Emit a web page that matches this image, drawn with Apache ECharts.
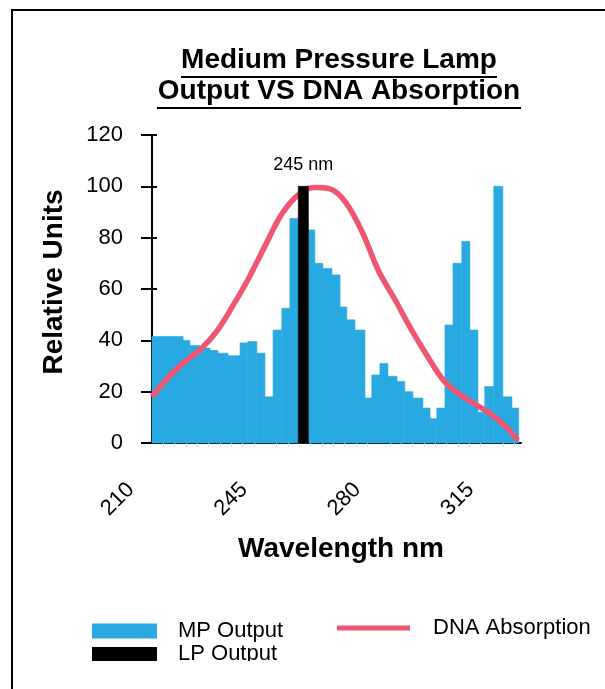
<!DOCTYPE html>
<html>
<head>
<meta charset="utf-8">
<script src="https://cdn.jsdelivr.net/npm/echarts@6/dist/echarts.min.js"></script>
<style>
  body { margin: 0; background: #fff; }
  #wrap { position: relative; width: 605px; height: 689px; overflow: hidden; }
  #frame { position: absolute; left: 11px; top: 9px; width: 620px; height: 700px;
           border-left: 2px solid #000; border-top: 2px solid #000; }
  #chart { position: absolute; left: 0; top: 0; width: 605px; height: 661px; }
</style>
</head>
<body>
<div id="wrap">
  <div id="frame"></div>
  <div id="chart"></div>
</div>
<script>
// medium pressure lamp output, histogram bins (nm edges) and heights
var binEdges = [210, 219.6, 221.7, 224.8, 227.9, 230.4, 233.5, 237.2, 239.6, 242.4,
  244.9, 247.4, 250.1, 252.6, 255.1, 258.2, 260.3, 262.8, 265.6, 268.1,
  270.2, 272.7, 275.8, 277.9, 280.4, 282.9, 285.7, 288.1, 290.6, 293.7,
  295.9, 298.0, 300.5, 303.0, 305.7, 308.2, 310.7, 312.8, 315.6, 318.4,
  321.2, 323.3];
var mpOutput = [41.5, 40, 38, 37, 36, 35, 34, 39, 39.5, 35,
  18, 44, 52.5, 87.5, 87, 83, 70, 68, 65.5, 53,
  48, 44, 17.5, 26.5, 31, 26, 24, 20, 17.5, 13.6,
  9.5, 13.6, 46, 70, 78.5, 44, 12, 22, 100, 18,
  13.6];

// low pressure lamp line
var lpEdges = [255.2, 258.3];
var lpOutput = [100];
var lpLabel = "245 nm";

// DNA absorption curve
var dnaWavelength = [210, 215, 220, 225, 230, 235, 240, 245, 250, 255,
  260, 265, 270, 275, 280, 285, 290, 295, 300, 305,
  310, 315, 320, 323];
var dnaAbsorption = [18, 25.5, 31.5, 36.5, 43.5, 53.5, 64.5, 77, 89, 96.5,
  99.5, 99, 93.5, 82, 67, 56, 44.5, 34, 24.5, 19,
  15, 11, 5.5, 1];

var FONT = "Liberation Sans, Arial, sans-serif";

var mpData = [];
for (var i = 0; i < mpOutput.length; i++) {
  mpData.push([binEdges[i], binEdges[i + 1], mpOutput[i]]);
}
var lpData = [[lpEdges[0], lpEdges[1], lpOutput[0]]];
var dnaData = [];
for (var j = 0; j < dnaWavelength.length; j++) {
  dnaData.push([dnaWavelength[j], dnaAbsorption[j]]);
}

function binRect(withLabel) {
  return function (params, api) {
    var p0 = api.coord([api.value(0), 0]);
    var p1 = api.coord([api.value(1), api.value(2)]);
    var el = {
      type: "rect",
      shape: { x: p0[0], y: p1[1], width: p1[0] - p0[0], height: p0[1] - p1[1] },
      style: { fill: api.visual("color"), stroke: api.visual("color"), lineWidth: 0.6 }
    };
    if (withLabel) {
      el.textContent = { style: { text: lpLabel, font: "18px " + FONT, fill: "#000" } };
      el.textConfig = { position: "top", distance: 12 };
    }
    return el;
  };
}

var chart = echarts.init(document.getElementById("chart"));
chart.setOption({
  animation: false,
  textStyle: { fontFamily: FONT },
  graphic: [
    { type: "text", x: 339, y: 60, style: { text: "Medium Pressure Lamp", font: "bold 28px " + FONT, fill: "#000", align: "center", verticalAlign: "middle" } },
    { type: "text", x: 339, y: 91, style: { text: "Output VS DNA Absorption", font: "bold 28px " + FONT, fill: "#000", align: "center", verticalAlign: "middle" } },
    { type: "rect", shape: { x: 181, y: 76, width: 316, height: 2 }, style: { fill: "#000" } },
    { type: "rect", shape: { x: 157, y: 107, width: 364, height: 2 }, style: { fill: "#000" } }
  ],
  legend: [
    { left: 92, top: 620, padding: 0, icon: "rect", itemWidth: 65, itemHeight: 15, selectedMode: false,
      data: ["MP Output"], textStyle: { fontSize: 22, color: "#000", padding: [0, 0, 0, 16] } },
    { left: 92, top: 643, padding: 0, icon: "rect", itemWidth: 65, itemHeight: 14, selectedMode: false,
      data: ["LP Output"], textStyle: { fontSize: 22, color: "#000", padding: [0, 0, 0, 16] } },
    { left: 337, top: 617, padding: 0, icon: "rect", itemWidth: 73, itemHeight: 5, selectedMode: false,
      data: ["DNA Absorption"], textStyle: { fontSize: 22, color: "#000", padding: [0, 0, 0, 18] } }
  ],
  grid: { left: 152, right: 84, top: 135, bottom: 218 },
  xAxis: {
    type: "value",
    min: 210,
    max: 324,
    interval: 35,
    name: "Wavelength nm",
    nameLocation: "middle",
    nameGap: 92,
    nameTextStyle: { fontSize: 28, fontWeight: "bold", color: "#000", padding: [0, 0, 0, 9] },
    axisLine: { show: true, onZero: false, lineStyle: { color: "#000", width: 2 } },
    axisTick: { show: false },
    minorTick: { show: true, splitNumber: 10, length: 4, lineStyle: { color: "#ddd", width: 1 } },
    axisLabel: { rotate: 45, margin: 22, fontSize: 22, color: "#000", padding: [0, 30, 0, 0], showMaxLabel: false },
    splitLine: { show: false }
  },
  yAxis: [
    {
      type: "value",
      min: 0,
      max: 120,
      interval: 20,
      name: "Relative Units",
      nameLocation: "middle",
      nameGap: 84,
      nameTextStyle: { fontSize: 28, fontWeight: "bold", color: "#000", padding: [0, 0, 0, 14] },
      axisLine: { show: true, lineStyle: { color: "#000", width: 2 } },
      axisTick: { show: true, length: 11, lineStyle: { color: "#000", width: 2 } },
      axisLabel: { margin: 29, fontSize: 22, color: "#000" },
      splitLine: { show: false }
    },
    {
      type: "value",
      min: 0,
      max: 120,
      interval: 20,
      position: "left",
      axisLine: { show: false },
      axisTick: { show: true, inside: true, length: 5, lineStyle: { color: "#000", width: 2 } },
      axisLabel: { show: false },
      splitLine: { show: false }
    }
  ],
  series: [
    {
      name: "MP Output",
      type: "custom",
      renderItem: binRect(false),
      itemStyle: { color: "#29a9e1" },
      encode: { x: [0, 1], y: 2 },
      data: mpData,
      z: 1
    },
    {
      name: "DNA Absorption",
      type: "line",
      data: dnaData,
      smooth: 0.35,
      showSymbol: false,
      itemStyle: { color: "#ef5672" },
      lineStyle: { color: "#ef5672", width: 5.5 },
      z: 2
    },
    {
      name: "LP Output",
      type: "custom",
      renderItem: binRect(true),
      itemStyle: { color: "#000" },
      encode: { x: [0, 1], y: 2 },
      data: lpData,
      z: 3
    }
  ]
});
</script>
</body>
</html>
